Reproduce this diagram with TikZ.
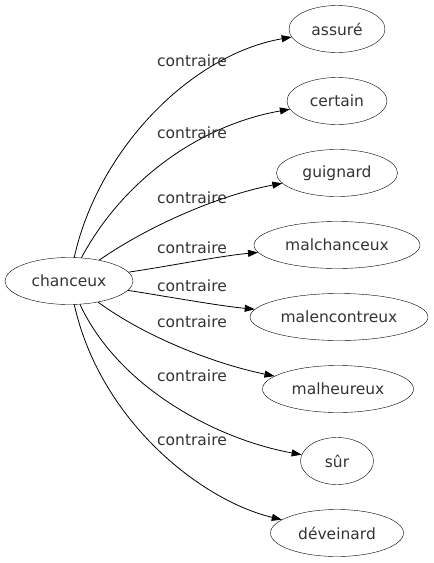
\documentclass[tikz,border=0pt]{standalone}
\usepackage{fontspec}
\setmainfont{DejaVu Sans}
\usetikzlibrary{shapes.geometric,arrows.meta}
\begin{document}
\begin{tikzpicture}[x=1pt,y=-1pt,
  word/.style={draw,ellipse,inner sep=0pt,minimum height=47pt,text=black!80,font=\fontsize{15.5}{16}\selectfont},
  rel/.style={draw,line width=0.8pt,-{Triangle[length=10pt,width=7pt]}},
  lab/.style={font=\fontsize{15.5}{16}\selectfont,text=black!80,inner sep=0pt}]
\useasboundingbox (0,0) rectangle (434,563);
\node[word,minimum width=128pt] (c) at (69,281) {chanceux};
\node[word,minimum width=96pt] (n1) at (337,29) {assuré};
\node[word,minimum width=100pt] (n2) at (337,101) {certain};
\node[word,minimum width=121pt] (n3) at (337,173) {guignard};
\node[word,minimum width=166pt] (n4) at (337,245) {malchanceux};
\node[word,minimum width=178pt] (n5) at (339,317) {malencontreux};
\node[word,minimum width=151pt] (n6) at (338,389) {malheureux};
\node[word,minimum width=73pt] (n7) at (337,461) {sûr};
\node[word,minimum width=133pt] (n8) at (337,533) {déveinard};
\draw[rel] (c) .. controls (98,150) and (190,55) .. (n1);
\draw[rel] (c) .. controls (123,180) and (200,125) .. (n2);
\draw[rel] (c) .. controls (150,225) and (220,195) .. (n3);
\draw[rel] (c) .. controls (170,266) and (220,256) .. (n4);
\draw[rel] (c) .. controls (170,297) and (220,306) .. (n5);
\draw[rel] (c) .. controls (150,340) and (220,365) .. (n6);
\draw[rel] (c) .. controls (120,390) and (220,440) .. (n7);
\draw[rel] (c) .. controls (100,420) and (200,500) .. (n8);
\node[lab] (l1) at (192,61) {contraire};
\node[lab] (l2) at (192,133) {contraire};
\node[lab] (l3) at (192,198) {contraire};
\node[lab] (l4) at (192,248) {contraire};
\node[lab] (l5) at (192,286) {contraire};
\node[lab] (l6) at (192,322) {contraire};
\node[lab] (l7) at (192,376) {contraire};
\node[lab] (l8) at (192,440) {contraire};
\end{tikzpicture}
\end{document}
